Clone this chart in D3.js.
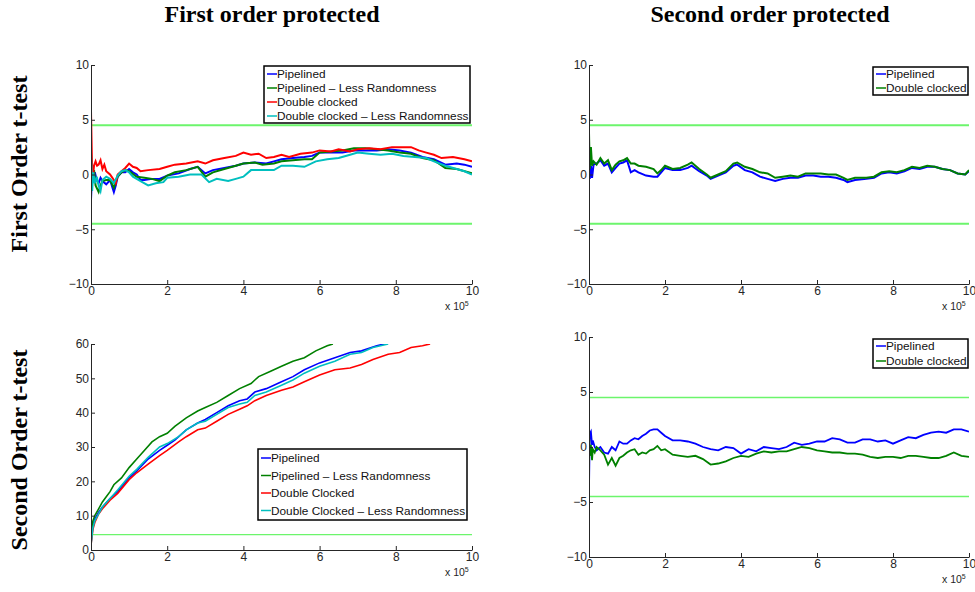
<!DOCTYPE html>
<html>
<head>
<meta charset="utf-8">
<script src="https://cdn.jsdelivr.net/npm/d3@7"></script>
<style>
  body { margin: 0; background: #fff; }
  svg text { font-family: Arial, "Liberation Sans", sans-serif; }
  .title { font-family: "Liberation Serif", "Times New Roman", serif !important; font-weight: bold; }
</style>
</head>
<body>
<svg id="chart" width="975" height="592"></svg>
<script>
// x values are in units of 1e5 traces
const THRESHOLD = 4.5;

// --- First order protected, first order t-test
const tlPipelinedX = [0, 0.03, 0.06, 0.1, 0.15, 0.2, 0.25, 0.3, 0.4, 0.5, 0.6, 0.65, 0.7, 0.8, 0.9, 1.0, 1.1, 1.2, 1.3, 1.4, 1.6, 1.8, 2.0, 2.3, 2.6, 2.8, 3.0, 3.2, 3.5, 3.8, 4.0, 4.3, 4.6, 4.8, 5.0, 5.3, 5.6, 5.8, 6.0, 6.3, 6.6, 6.9, 7.2, 7.5, 7.8, 8.1, 8.4, 8.7, 9.0, 9.3, 9.6, 9.8, 10];
const tlPipelinedY = [-2.3, 0.3, -0.5, 0.2, -0.5, -0.8, -0.3, -0.6, -0.9, -0.5, -1.6, -1.0, -0.2, 0.2, 0.2, 0.5, 0.2, 0, -0.5, -0.5, -0.4, -0.4, -0.1, 0.1, 0.5, 0.7, 0.1, 0.4, 0.6, 0.8, 1.0, 1.1, 1.0, 1.2, 1.4, 1.5, 1.6, 1.7, 2.0, 2.0, 2.0, 2.2, 2.2, 2.2, 2.3, 2.2, 2.0, 1.6, 1.4, 0.9, 1.0, 0.9, 0.7];

const tlPipelinedLrX = [0, 0.03, 0.08, 0.12, 0.2, 0.25, 0.3, 0.4, 0.5, 0.6, 0.7, 0.8, 0.9, 1.0, 1.2, 1.4, 1.6, 1.8, 2.0, 2.2, 2.5, 2.8, 3.0, 3.2, 3.5, 3.8, 4.0, 4.3, 4.5, 4.8, 5.0, 5.3, 5.6, 5.8, 6.0, 6.3, 6.6, 6.9, 7.2, 7.5, 7.8, 8.1, 8.4, 8.7, 9.0, 9.3, 9.6, 10];
const tlPipelinedLrY = [1.8, -0.8, 0.4, -1.0, -1.6, -1.0, -0.6, -0.5, -0.5, -1.2, -0.2, 0.2, 0.4, 0.3, -0.2, -0.3, -0.4, -0.6, -0.1, 0.2, 0.4, 0.7, -0.2, 0.2, 0.5, 0.8, 1.0, 1.1, 0.9, 1.0, 1.2, 1.3, 1.4, 1.4, 2.0, 2.1, 2.2, 2.4, 2.4, 2.3, 2.2, 2.0, 1.9, 1.5, 1.3, 0.6, 0.5, 0.1];

const tlDoubleX = [0, 0.02, 0.04, 0.08, 0.12, 0.16, 0.2, 0.25, 0.3, 0.35, 0.4, 0.5, 0.6, 0.65, 0.7, 0.8, 0.9, 1.0, 1.1, 1.2, 1.3, 1.5, 1.8, 2.0, 2.2, 2.5, 2.8, 3.0, 3.2, 3.5, 3.8, 4.0, 4.2, 4.4, 4.6, 4.8, 5.0, 5.2, 5.5, 5.8, 6.0, 6.3, 6.5, 6.8, 7.0, 7.3, 7.6, 7.9, 8.1, 8.4, 8.6, 8.8, 9.0, 9.2, 9.5, 9.8, 10];
const tlDoubleY = [5.8, 2.0, -0.5, 0.8, 1.2, 0.8, 0.9, 1.3, 0.5, 0.9, 0.3, 0.0, -0.5, -0.8, 0.0, 0.3, 0.6, 1.0, 0.7, 0.6, 0.3, 0.4, 0.5, 0.7, 0.9, 1.0, 1.2, 1.0, 1.3, 1.5, 1.7, 2.0, 1.8, 1.9, 1.5, 1.6, 1.8, 1.6, 1.9, 2.0, 2.2, 2.1, 2.3, 2.1, 2.3, 2.4, 2.3, 2.5, 2.5, 2.5, 2.2, 2.0, 1.8, 1.5, 1.6, 1.4, 1.2];

const tlDoubleLrX = [0, 0.03, 0.06, 0.1, 0.15, 0.2, 0.25, 0.3, 0.4, 0.5, 0.6, 0.7, 0.8, 0.9, 1.0, 1.1, 1.3, 1.5, 1.7, 1.9, 2.0, 2.3, 2.6, 2.9, 3.1, 3.3, 3.6, 3.8, 4.0, 4.2, 4.5, 4.8, 5.0, 5.3, 5.6, 5.9, 6.2, 6.5, 6.8, 7.0, 7.3, 7.6, 7.9, 8.2, 8.5, 8.8, 9.0, 9.3, 9.6, 9.8, 10];
const tlDoubleLrY = [2.0, -1.5, 0.2, -0.8, -0.2, -1.0, -1.5, -0.5, -0.2, -0.4, -0.8, -0.1, 0.3, 0.4, 0.2, -0.2, -0.6, -1.0, -0.8, -0.7, -0.3, -0.2, 0.0, 0.0, -0.7, -0.4, -0.6, -0.4, -0.2, 0.4, 0.4, 0.4, 0.8, 0.8, 0.7, 1.2, 1.4, 1.5, 1.8, 2.0, 1.9, 1.8, 1.9, 1.7, 1.6, 1.5, 1.2, 0.8, 0.5, 0.3, 0.0];

// --- Second order protected, first order t-test
const trX = [0, 0.02, 0.05, 0.08, 0.12, 0.2, 0.3, 0.4, 0.5, 0.6, 0.7, 0.8, 0.9, 1.0, 1.1, 1.2, 1.3, 1.5, 1.7, 1.8, 1.9, 2.0, 2.2, 2.4, 2.6, 2.7, 2.9, 3.1, 3.2, 3.4, 3.6, 3.8, 3.9, 4.1, 4.3, 4.5, 4.7, 4.9, 5.1, 5.3, 5.5, 5.7, 5.9, 6.1, 6.3, 6.5, 6.7, 6.8, 7.0, 7.3, 7.5, 7.7, 7.9, 8.1, 8.3, 8.5, 8.7, 8.9, 9.1, 9.3, 9.5, 9.7, 9.9, 10];
const trPipelinedY = [2.5, -0.4, 0.8, -0.3, 0.9, 1.0, 1.3, 0.8, 1.0, 0.2, 0.6, 1.0, 1.1, 1.3, 0.2, 0.4, 0.2, -0.1, -0.2, -0.2, 0.2, 0.6, 0.4, 0.4, 0.6, 0.8, 0.3, -0.1, -0.4, -0.1, 0.2, 0.8, 0.9, 0.4, 0.2, -0.2, -0.4, -0.6, -0.4, -0.3, -0.3, -0.1, -0.1, -0.2, -0.2, -0.3, -0.5, -0.7, -0.5, -0.4, -0.3, 0.1, 0.2, 0.1, 0.3, 0.6, 0.5, 0.7, 0.7, 0.5, 0.4, 0.1, 0.0, 0.3];
const trDoubleY = [3.8, 0.5, 2.5, 0.8, 1.2, 0.9, 1.5, 1.0, 1.3, 0.4, 0.9, 1.2, 1.3, 1.5, 1.0, 1.0, 0.8, 0.7, 0.5, 0.1, 0.4, 0.8, 0.5, 0.6, 0.9, 1.1, 0.5, 0.0, -0.3, 0.0, 0.3, 1.0, 1.1, 0.7, 0.5, 0.2, 0.1, -0.3, -0.2, -0.1, -0.2, 0.1, 0.1, 0.1, 0.0, 0.0, -0.3, -0.5, -0.3, -0.3, -0.2, 0.2, 0.3, 0.2, 0.4, 0.7, 0.6, 0.8, 0.7, 0.5, 0.4, 0.1, 0.0, 0.4];

// --- First order protected, second order t-test
const blPipelinedX = [0, 0.05, 0.1, 0.2, 0.3, 0.5, 0.7, 1.0, 1.2, 1.5, 1.8, 2.0, 2.2, 2.5, 2.8, 3.0, 3.3, 3.6, 3.9, 4.1, 4.3, 4.6, 5.0, 5.3, 5.6, 6.0, 6.4, 6.8, 7.1, 7.5, 7.7];
const blPipelinedY = [2, 7, 9, 11, 12.5, 15, 17, 21, 23, 26.5, 29, 30.5, 32, 35, 37, 38, 40, 42, 43.5, 44, 46, 47, 49, 50.5, 52.5, 54.5, 56, 57.5, 58, 59.5, 60];

const blPipelinedLrX = [0, 0.05, 0.1, 0.2, 0.3, 0.4, 0.5, 0.6, 0.8, 1.0, 1.2, 1.4, 1.6, 1.8, 2.0, 2.2, 2.5, 2.8, 3.0, 3.3, 3.6, 3.9, 4.2, 4.4, 4.7, 5.0, 5.3, 5.6, 5.9, 6.2, 6.35];
const blPipelinedLrY = [3, 8.5, 10, 12, 14, 15.5, 17, 19, 21, 24, 26.5, 29, 31.5, 33, 34, 36, 38.5, 40.5, 41.5, 43, 45, 47, 48.5, 50.5, 52, 53.5, 55, 56, 58, 59.5, 60];

const blDoubleX = [0, 0.05, 0.1, 0.2, 0.3, 0.5, 0.7, 1.0, 1.2, 1.5, 1.8, 2.0, 2.3, 2.5, 2.8, 3.0, 3.3, 3.6, 3.9, 4.1, 4.3, 4.6, 5.0, 5.3, 5.6, 6.0, 6.4, 6.8, 7.1, 7.4, 7.8, 8.1, 8.4, 8.7, 8.9];
const blDoubleY = [1.5, 6, 8, 10.5, 12, 14.5, 16.5, 20.5, 22.5, 25, 27.5, 29, 31.5, 33, 35, 35.5, 37.5, 39.5, 41, 42, 43.5, 45, 46.5, 47.5, 49, 51, 52.5, 53, 54, 55.5, 57, 57.5, 59, 59.5, 60];

const blDoubleLrX = [0, 0.05, 0.1, 0.2, 0.3, 0.5, 0.7, 1.0, 1.2, 1.5, 1.8, 2.0, 2.3, 2.5, 2.8, 3.0, 3.3, 3.6, 3.9, 4.1, 4.3, 4.6, 5.0, 5.3, 5.6, 6.0, 6.4, 6.8, 7.1, 7.4, 7.8];
const blDoubleLrY = [1.5, 6.5, 8.5, 10.5, 12.5, 15, 17.5, 21.5, 23.5, 27, 30, 31, 33, 35, 37, 37.5, 39.5, 41.5, 42.5, 43, 45, 46, 48, 49.5, 51.5, 53.5, 55, 57, 57.5, 59, 60];

// --- Second order protected, second order t-test
const brX = [0, 0.02, 0.05, 0.08, 0.1, 0.15, 0.2, 0.3, 0.4, 0.5, 0.6, 0.7, 0.8, 0.9, 1.0, 1.1, 1.2, 1.3, 1.4, 1.5, 1.6, 1.7, 1.8, 1.9, 2.0, 2.2, 2.4, 2.6, 2.8, 3.0, 3.2, 3.4, 3.6, 3.8, 4.0, 4.2, 4.4, 4.6, 4.8, 5.0, 5.2, 5.4, 5.6, 5.8, 6.0, 6.2, 6.4, 6.6, 6.8, 7.0, 7.2, 7.4, 7.6, 7.8, 8.0, 8.2, 8.4, 8.6, 8.8, 9.0, 9.2, 9.4, 9.6, 9.8, 10];
const brPipelinedY = [-3.8, 1.2, 1.4, 0.2, 0.6, 0.0, -0.3, 0.0, -0.5, -0.6, 0.0, -0.3, 0.5, 0.3, 0.3, 0.6, 0.8, 0.7, 1.0, 1.2, 1.5, 1.6, 1.6, 1.3, 1.0, 0.6, 0.6, 0.5, 0.3, 0.0, -0.2, -0.3, 0.0, -0.1, -0.6, -0.2, -0.4, 0.0, -0.1, -0.2, 0.0, 0.4, 0.2, 0.3, 0.5, 0.5, 0.8, 0.7, 0.4, 0.4, 0.7, 0.7, 0.5, 0.6, 0.3, 0.6, 0.9, 0.8, 1.1, 1.3, 1.4, 1.3, 1.6, 1.6, 1.4];
const brDoubleY = [1.4, -0.8, 0.2, -1.2, -0.2, -0.5, 0.0, -0.3, -0.7, -1.6, -1.0, -1.7, -1.0, -0.8, -0.5, -0.3, -0.2, -0.7, -0.5, -0.6, -0.3, -0.2, 0.1, -0.3, -0.2, -0.7, -0.8, -0.9, -0.8, -1.1, -1.6, -1.5, -1.3, -1.0, -0.8, -0.9, -0.6, -0.4, -0.5, -0.4, -0.4, -0.2, 0.0, -0.1, -0.3, -0.4, -0.5, -0.5, -0.6, -0.6, -0.7, -0.9, -1.0, -0.9, -0.9, -1.0, -0.8, -0.8, -0.9, -1.0, -1.0, -0.8, -0.5, -0.8, -0.9];

const xTicks = [0, 2, 4, 6, 8, 10];
const tTicks = [-10, -5, 0, 5, 10];
const secondOrderTicks = [0, 10, 20, 30, 40, 50, 60];

const BLUE = '#0000ff', GREEN = '#008000', RED = '#ff0000', CYAN = '#00bfbf', LIMIT = '#6cf56c';

const svg = d3.select('#chart');

function zip(xs, ys) {
  return xs.map((x, i) => [x, ys[i]]);
}

function drawPanel(cfg) {
  const x = d3.scaleLinear().domain([0, 10]).range([cfg.left, cfg.right]);
  const y = d3.scaleLinear().domain(cfg.yDomain).range([cfg.bottom, cfg.top]);
  const g = svg.append('g');

  const clipId = 'clip' + cfg.id;
  g.append('clipPath').attr('id', clipId)
    .append('rect')
    .attr('x', cfg.left).attr('y', cfg.top)
    .attr('width', cfg.right - cfg.left).attr('height', cfg.bottom - cfg.top);

  const plot = g.append('g').attr('clip-path', `url(#${clipId})`);

  // threshold lines
  cfg.limits.forEach(v => {
    plot.append('line')
      .attr('x1', x(0)).attr('x2', x(10))
      .attr('y1', y(v)).attr('y2', y(v))
      .attr('stroke', LIMIT).attr('stroke-width', cfg.limitWidth);
  });

  const line = d3.line().x(d => x(d[0])).y(d => y(d[1]));
  cfg.series.forEach(s => {
    plot.append('path')
      .datum(zip(s.x, s.y))
      .attr('d', line)
      .attr('fill', 'none')
      .attr('stroke', s.color)
      .attr('stroke-width', cfg.lineWidth)
      .attr('stroke-linejoin', 'miter');
  });

  const axX = g.append('g').attr('transform', `translate(0,${cfg.bottom})`)
    .call(d3.axisBottom(x).tickValues(xTicks).tickSize(-4).tickSizeOuter(0).tickPadding(2));
  const axY = g.append('g').attr('transform', `translate(${cfg.left},0)`)
    .call(d3.axisLeft(y).tickValues(cfg.yTicks).tickSize(-4).tickSizeOuter(0).tickPadding(2)
      .tickFormat(d => d < 0 ? '\u2212' + Math.abs(d) : d));
  [axX, axY].forEach(ax => {
    ax.select('.domain').attr('stroke', '#262626');
    ax.selectAll('line').attr('stroke', '#262626');
    ax.selectAll('text').attr('font-size', 12).attr('fill', '#262626')
      .attr('font-family', 'Arial, "Liberation Sans", sans-serif');
  });

  // x 10^5 multiplier, below the last x tick label
  const mult = g.append('text')
    .attr('x', cfg.right - 27).attr('y', cfg.bottom + 26)
    .attr('font-size', 10.5).attr('fill', '#262626');
  mult.append('tspan').text('x 10');
  mult.append('tspan').attr('dy', -4).attr('font-size', 7).text('5');

  // legend
  const lg = cfg.legend;
  g.append('rect')
    .attr('x', lg.x).attr('y', lg.y).attr('width', lg.w).attr('height', lg.h)
    .attr('fill', '#fff').attr('stroke', '#000').attr('stroke-width', 1.5);
  cfg.series.forEach((s, i) => {
    const ry = lg.y + lg.first + i * lg.step;
    g.append('line')
      .attr('x1', lg.x + 3).attr('x2', lg.x + 13)
      .attr('y1', ry).attr('y2', ry)
      .attr('stroke', s.color).attr('stroke-width', 1.5);
    g.append('text')
      .attr('x', lg.x + 13).attr('y', ry).attr('dy', '0.35em')
      .attr('font-size', lg.fontSize).attr('fill', '#111')
      .text(s.name);
  });
}

drawPanel({
  id: 'tl', left: 91, right: 472, top: 65, bottom: 284,
  yDomain: [-10, 10], yTicks: tTicks, limits: [THRESHOLD, -THRESHOLD],
  lineWidth: 2, limitWidth: 2,
  series: [
    { name: 'Pipelined', color: BLUE, x: tlPipelinedX, y: tlPipelinedY },
    { name: 'Pipelined \u2013 Less Randomness', color: GREEN, x: tlPipelinedLrX, y: tlPipelinedLrY },
    { name: 'Double clocked', color: RED, x: tlDoubleX, y: tlDoubleY },
    { name: 'Double clocked \u2013 Less Randomness', color: CYAN, x: tlDoubleLrX, y: tlDoubleLrY }
  ],
  legend: { x: 264, y: 66, w: 206, h: 57, first: 8, step: 14, fontSize: 11.8 }
});

drawPanel({
  id: 'tr', left: 589, right: 969, top: 65, bottom: 284,
  yDomain: [-10, 10], yTicks: tTicks, limits: [THRESHOLD, -THRESHOLD],
  lineWidth: 2, limitWidth: 2,
  series: [
    { name: 'Pipelined', color: BLUE, x: trX, y: trPipelinedY },
    { name: 'Double clocked', color: GREEN, x: trX, y: trDoubleY }
  ],
  legend: { x: 873, y: 67, w: 95, h: 28, first: 7, step: 14, fontSize: 11.8 }
});

drawPanel({
  id: 'bl', left: 91, right: 472, top: 344, bottom: 550,
  yDomain: [0, 60], yTicks: secondOrderTicks, limits: [THRESHOLD],
  lineWidth: 1.6, limitWidth: 1.3,
  series: [
    { name: 'Pipelined', color: BLUE, x: blPipelinedX, y: blPipelinedY },
    { name: 'Pipelined \u2013 Less Randomness', color: GREEN, x: blPipelinedLrX, y: blPipelinedLrY },
    { name: 'Double Clocked', color: RED, x: blDoubleX, y: blDoubleY },
    { name: 'Double Clocked \u2013 Less Randomness', color: CYAN, x: blDoubleLrX, y: blDoubleLrY }
  ],
  legend: { x: 258, y: 449, w: 209, h: 71, first: 9, step: 17.5, fontSize: 11.8 }
});

drawPanel({
  id: 'br', left: 589, right: 969, top: 337, bottom: 557,
  yDomain: [-10, 10], yTicks: tTicks, limits: [THRESHOLD, -THRESHOLD],
  lineWidth: 1.8, limitWidth: 1.3,
  series: [
    { name: 'Pipelined', color: BLUE, x: brX, y: brPipelinedY },
    { name: 'Double clocked', color: GREEN, x: brX, y: brDoubleY }
  ],
  legend: { x: 873, y: 339, w: 95, h: 29, first: 7, step: 15, fontSize: 11.8 }
});

// column titles
svg.append('text').attr('class', 'title')
  .attr('x', 272).attr('y', 22).attr('text-anchor', 'middle')
  .attr('font-size', 24).text('First order protected');
svg.append('text').attr('class', 'title')
  .attr('x', 770).attr('y', 22).attr('text-anchor', 'middle')
  .attr('font-size', 24).text('Second order protected');

// row titles
svg.append('text').attr('class', 'title')
  .attr('transform', 'translate(27,164) rotate(-90)').attr('text-anchor', 'middle')
  .attr('font-size', 24).text('First Order t-test');
svg.append('text').attr('class', 'title')
  .attr('transform', 'translate(27,450) rotate(-90)').attr('text-anchor', 'middle')
  .attr('font-size', 24).text('Second Order t-test');
</script>
</body>
</html>
